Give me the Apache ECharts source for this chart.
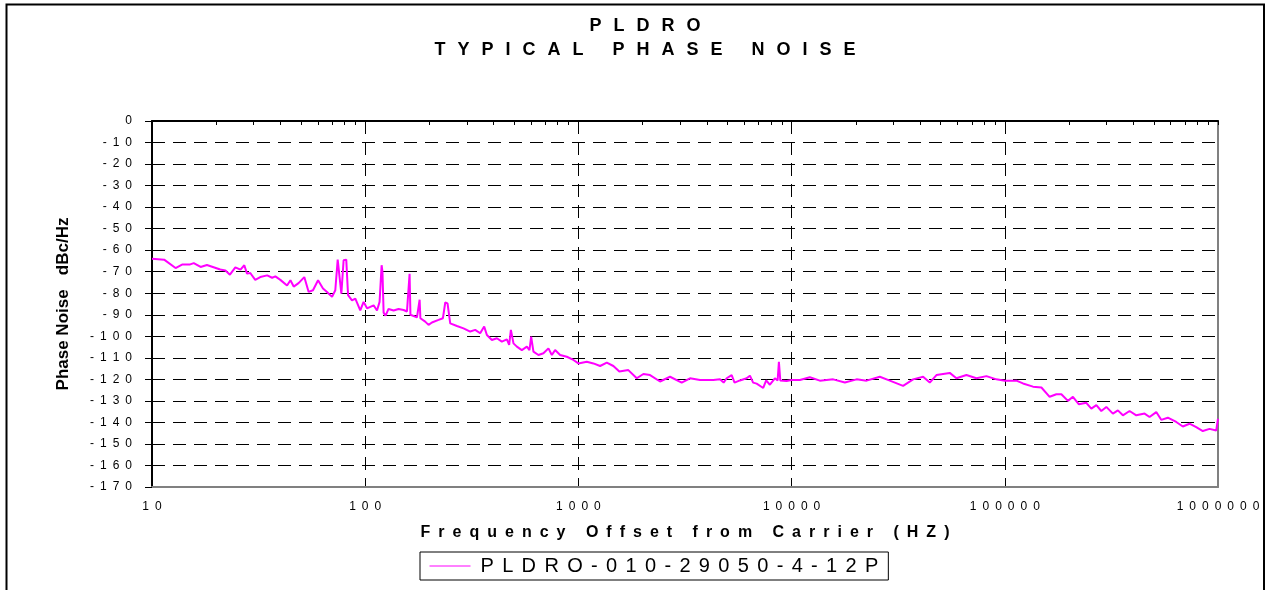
<!DOCTYPE html>
<html>
<head>
<meta charset="utf-8">
<script src="https://cdn.jsdelivr.net/npm/echarts@6/dist/echarts.min.js"></script>
<style>
  html, body { margin: 0; padding: 0; background: #fff; }
  #main { width: 1265px; height: 590px; }
</style>
</head>
<body>
<div id="main"></div>
<script>
// offset frequency (Hz) and phase noise (dBc/Hz)
var freqHz = [
  10, 11.4, 12.9, 13.9, 15.1, 15.7, 16.9, 18.1, 20.9, 22.1, 23.2, 24.6, 26.0, 27.1, 27.9, 28.9,
  30.5, 32.2, 34.7, 36.6, 37.9, 40.0, 43.0, 44.6, 46.2, 48.7, 51.8, 54.3, 56.9, 60.1, 63.4, 66.2,
  69.9, 72.4, 74.3, 75.9, 77.3, 79.2, 81.5, 83.1, 86.7, 89.9, 94.8, 98.3, 102, 109.5, 113.6, 116.8,
  119.4, 120.5, 122, 124.6, 128.7, 135.9, 143.4, 151.4, 157, 160, 161.5, 163, 165.7, 174.9, 178.5,
  180, 181.5, 184.6, 191.2, 198.2, 205.6, 220.8, 231.5, 237.4, 243.3, 250.5, 269.3, 289.2, 310.8,
  328.1, 346.2, 361.5, 372.2, 392.8, 414.6, 437.5, 461.8, 473.4, 482.3, 496, 514.5, 542.8, 573.2,
  589.5, 600.4, 615.3, 649.6, 685.5, 723.4, 750.5, 777.6, 820.9, 882.3, 947.5,
  1000, 1095, 1176, 1264, 1359, 1459, 1556, 1715, 1878, 2017, 2168, 2415, 2690, 3051, 3338, 3719,
  4292, 4613, 4800, 4960, 5234, 5400, 5725, 6152, 6376, 6600, 6855, 7361, 7600, 7911, 8349, 8600,
  8719, 8850, 8980, 9475,
  10000, 10940, 12180, 13570, 15670, 17780, 20170, 22470, 25930, 28890, 33340, 37140, 41380,
  44470, 47800, 55180, 59320, 66070, 73600, 82000, 91310,
  100000, 113400, 121700, 135600, 148500, 162300, 174500, 184200, 197800, 208700, 222700, 241200,
  254600, 268800, 283600, 299400, 321400, 339200, 358000, 384800, 413700, 452500, 477500, 513300,
  541700, 581700, 637000, 683900, 735200, 790500, 848900, 912600, 980800, 1000000
];
var noiseDbc = [
  -64, -64.4, -68.3, -66.6, -66.6, -66, -67.8, -66.9, -69, -69.4, -71.4, -68, -69, -67, -70.9, -70.6,
  -73.8, -72.5, -71.7, -72.8, -72.2, -73.8, -76.4, -74, -76.9, -75.3, -72.5, -79.4, -78.6, -74, -77.8, -79.4,
  -81.7, -78.6, -64.4, -64.4, -80.2, -64.7, -64.4, -80.9, -83.3, -82.5, -88, -84, -87, -85.6, -88, -84,
  -67, -70, -89, -90.4, -87.3, -88, -87.3, -87.8, -88.5, -88.5, -71, -90, -90.5, -91.2, -91,
  -83, -91.6, -91.6, -93.2, -94.7, -93.6, -92.4, -91.6, -84.3, -84.7, -94, -95.2, -96.3, -97.8,
  -97, -98.6, -95.5, -99.4, -101.7, -100.9, -102.5, -101.4, -104, -97, -103.3, -104.8, -106.4, -104.8,
  -106.4, -100.2, -107.1, -108.7, -107.9, -105.6, -108.7, -106.4, -108.7, -109.5, -111,
  -112.6, -111.8, -112.6, -113.8, -112.2, -113.8, -116.4, -115.7, -119.5, -117.5, -118, -121, -118.8, -121.5, -119.5, -120.3,
  -120.3, -120, -121.5, -119.5, -118, -121.5, -120.5, -119.5, -118.3, -121.5, -122, -124, -120.5, -122.5, -119.5, -120.5,
  -111.8, -120.5, -121.3, -120.8,
  -120.3, -120.3, -119, -120.6, -120, -121.5, -120, -120.6, -118.8, -120.6, -123, -120, -118.8,
  -121.5, -118, -117, -119.5, -118, -119.5, -118.5, -120,
  -120.6, -120.6, -121.9, -123.4, -123.8, -128.1, -126.9, -126.9, -130, -128.1, -131.6, -130.9,
  -133.6, -132, -134.7, -132.8, -135.9, -134.4, -136.7, -134.7, -136.7, -135.9, -137.5, -135.2,
  -138.8, -137.8, -139.8, -141.9, -140.6, -142.2, -144, -143, -143.8, -138.3
];
var seriesName = 'PLDRO-010-29050-4-12P';
var titleLines = ['PLDRO', 'TYPICAL PHASE NOISE'];
var xTitle = 'Frequency Offset from Carrier (HZ)';
var yTitle = 'Phase Noise   dBc/Hz';
var decades = [10, 100, 1000, 10000, 100000, 1000000];

var FONT = '"Liberation Sans", Arial, sans-serif';
function spread(s, gap) {
  return String(s).split('').join(gap);
}

// minor log ticks along the top edge (2..9 in every decade), in log10 units
var topTicks = [];
decades.slice(0, -1).forEach(function (d) {
  for (var k = 1; k <= 9; k++) topTicks.push(Math.log10(d * k));
});
topTicks.push(6);

var titleStyle = { fontFamily: FONT, fontSize: 18, fontWeight: 'bold', color: '#000' };

var myChart = echarts.init(document.getElementById('main'));
myChart.setOption({
  animation: false,
  backgroundColor: '#fff',
  title: [{
    text: spread(titleLines[0], '\u2002\u2006'),
    left: 645, top: 17, padding: 0, textAlign: 'center',
    textStyle: titleStyle
  }, {
    text: spread(titleLines[1], '\u2002\u2006'),
    left: 645, top: 41, padding: 0, textAlign: 'center',
    textStyle: titleStyle
  }],
  graphic: [{
    type: 'rect',
    shape: { x: 6.5, y: 4.5, width: 1257.5, height: 640 },
    style: { fill: 'none', stroke: '#000', lineWidth: 2 },
    silent: true
  }],
  legend: {
    data: [{ name: seriesName, itemStyle: { opacity: 0 } }],
    left: 420, top: 552,
    padding: [4, 10, 4, 9],
    itemWidth: 41, itemHeight: 14,
    borderColor: '#000', borderWidth: 1, borderRadius: 0,
    lineStyle: { width: 1 },
    formatter: function (n) { return spread(n, '\u2006\u2005'); },
    textStyle: { fontFamily: FONT, fontSize: 20, color: '#000', padding: [0, 0, 0, 5] }
  },
  grid: { left: 152, right: 47, top: 121, bottom: 103 },
  xAxis: [{
    type: 'log', logBase: 10, min: 10, max: 1000000,
    position: 'bottom',
    name: spread(xTitle, '\u2002'),
    nameLocation: 'middle', nameGap: 38,
    nameTextStyle: { fontFamily: FONT, fontSize: 16, fontWeight: 'bold', color: '#000' },
    axisLine: { onZero: false, lineStyle: { color: '#808080', width: 2 } },
    axisTick: { show: false },
    axisLabel: {
      margin: 14, fontFamily: FONT, fontSize: 12, color: '#000',
      formatter: function (v) { return spread(v, '\u2002'); }
    },
    splitLine: { show: true, lineStyle: { color: '#000', width: 1, type: [13, 8] } },
    minorTick: { show: false }
  }, {
    type: 'value', min: 1, max: 6,
    position: 'top',
    axisLine: { show: true, onZero: false, lineStyle: { color: '#000', width: 2 } },
    axisTick: { show: true, inside: true, length: 4, customValues: topTicks,
      lineStyle: { color: '#000', width: 1 } },
    axisLabel: { show: false },
    splitLine: { show: false }
  }],
  yAxis: [{
    type: 'value', min: -170, max: 0, interval: 10,
    position: 'left',
    name: yTitle,
    nameLocation: 'middle', nameRotate: 90, nameGap: 80,
    nameTextStyle: { fontFamily: FONT, fontSize: 17, fontWeight: 'bold', color: '#000' },
    axisLine: { show: true, onZero: false, lineStyle: { color: '#000', width: 2 } },
    axisTick: { show: true, length: 7, lineStyle: { color: '#000', width: 1 } },
    axisLabel: {
      margin: 20, fontFamily: FONT, fontSize: 12, color: '#000',
      formatter: function (v) { return spread(v, '\u2002'); }
    },
    splitLine: { show: true, lineStyle: { color: '#000', width: 1, type: [13, 8] } }
  }, {
    type: 'value', min: -170, max: 0, interval: 10,
    position: 'right',
    axisLine: { show: true, onZero: false, lineStyle: { color: '#808080', width: 2 } },
    axisTick: { show: false },
    axisLabel: { show: false },
    splitLine: { show: false }
  }],
  series: [{
    name: seriesName,
    type: 'line',
    xAxisIndex: 0, yAxisIndex: 0,
    symbol: 'none',
    lineStyle: { color: '#ff00ff', width: 2 },
    itemStyle: { color: '#ff00ff' },
    data: freqHz.map(function (f, i) { return [f, noiseDbc[i]]; })
  }]
});
</script>
</body>
</html>
